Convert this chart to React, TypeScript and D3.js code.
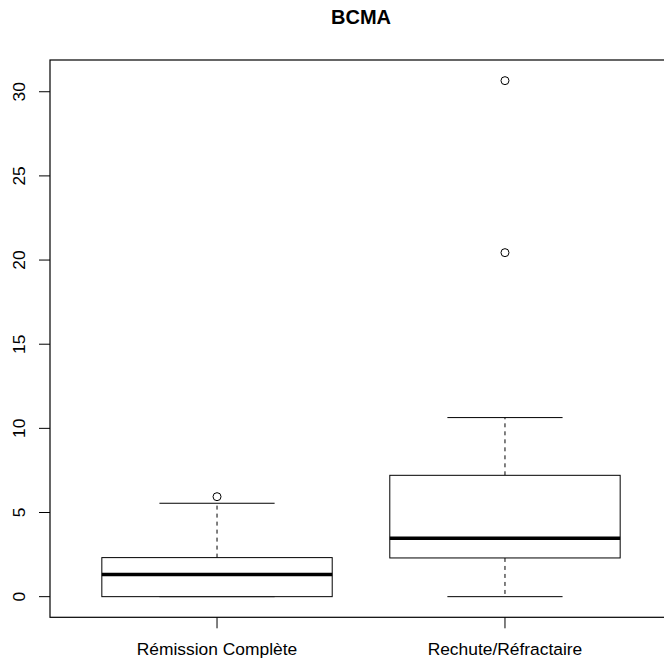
import React from "react";
import * as d3 from "d3";

const title = "BCMA";
const categories = ["Rémission Complète", "Rechute/Réfractaire"];
const lowerWhisker = [0, 0];
const q1 = [0, 2.3];
const median = [1.31, 3.47];
const q3 = [2.32, 7.21];
const upperWhisker = [5.55, 10.64];
const outliers = [[5.94], [20.44, 30.66]];
const yTicks = [0, 5, 10, 15, 20, 25, 30];

const W = 664;
const H = 661;
const left = 50;
const right = 672;
const top = 60;
const bottom = 617.3;

export default function App() {
  const x = d3.scaleLinear().domain([0.42, 2.58]).range([left, right]);
  const dataMin = 0;
  const dataMax = d3.max(outliers.flat()) as number;
  const pad = (dataMax - dataMin) * 0.04;
  const y = d3.scaleLinear().domain([dataMin - pad, dataMax + pad]).range([bottom, top]);
  const font = "'Liberation Sans', Arial, Helvetica, sans-serif";
  return (
    <svg width={W} height={H} style={{ position: "absolute", left: 0, top: 0 }} fontFamily={font}>
      <rect x={0} y={0} width={W} height={H} fill="white" />
      <text x={(left + right) / 2} y={24} textAnchor="middle" fontWeight="bold" fontSize={20}>
        {title}
      </text>
      <rect x={left} y={top} width={right - left} height={bottom - top} fill="none" stroke="black" strokeWidth={1.2} />
      {yTicks.map((t) => (
        <g key={t}>
          <line x1={left - 11} x2={left} y1={y(t)} y2={y(t)} stroke="black" strokeWidth={1} />
          <text
            transform={`translate(${24.5},${y(t)}) rotate(-90)`}
            textAnchor="middle"
            fontSize={17.4}
          >
            {t}
          </text>
        </g>
      ))}
      {categories.map((c, i) => {
        const cx = x(i + 1);
        const hw = 0.4 * (x(1) - x(0));
        const cw = 0.2 * (x(1) - x(0));
        return (
          <g key={c}>
            <line x1={cx} x2={cx} y1={bottom} y2={bottom + 11} stroke="black" strokeWidth={1} />
            <text x={cx} y={655} textAnchor="middle" fontSize={17.4}>
              {c}
            </text>
            <line x1={cx} x2={cx} y1={y(q3[i])} y2={y(upperWhisker[i])} stroke="black" strokeWidth={1} strokeDasharray="4,4" />
            <line x1={cx} x2={cx} y1={y(q1[i])} y2={y(lowerWhisker[i])} stroke="black" strokeWidth={1} strokeDasharray="4,4" />
            <line x1={cx - cw} x2={cx + cw} y1={y(upperWhisker[i])} y2={y(upperWhisker[i])} stroke="black" strokeWidth={1} />
            <line x1={cx - cw} x2={cx + cw} y1={y(lowerWhisker[i])} y2={y(lowerWhisker[i])} stroke="black" strokeWidth={1} />
            <rect x={cx - hw} y={y(q3[i])} width={2 * hw} height={y(q1[i]) - y(q3[i])} fill="white" stroke="black" strokeWidth={1} />
            <line x1={cx - hw} x2={cx + hw} y1={y(median[i])} y2={y(median[i])} stroke="black" strokeWidth={3.5} />
            {outliers[i].map((o, k) => (
              <circle key={k} cx={cx} cy={y(o)} r={4} fill="none" stroke="black" strokeWidth={1} />
            ))}
          </g>
        );
      })}
    </svg>
  );
}
